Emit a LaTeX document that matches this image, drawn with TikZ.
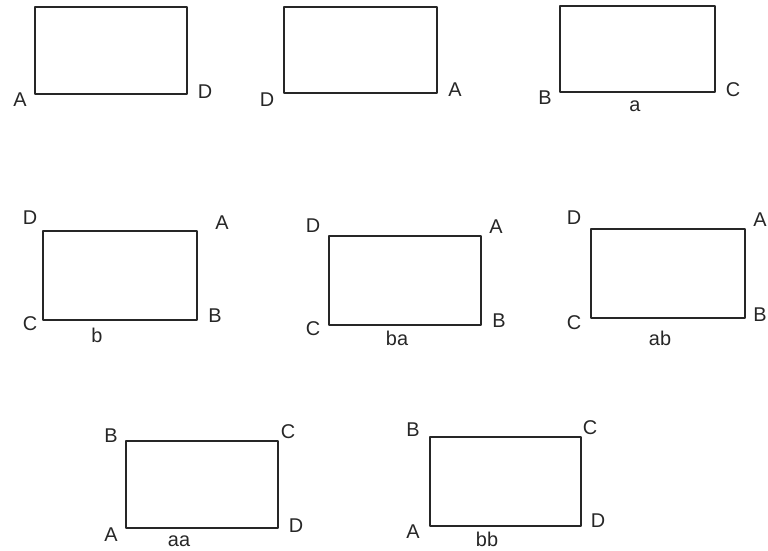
\documentclass[tikz,border=0pt]{standalone}
\usepackage{fontspec}
\setmainfont{Liberation Sans}
\usepackage{xcolor}
\usetikzlibrary{positioning}
\definecolor{ink}{HTML}{262626}

\tikzset{
	box/.style={draw=ink,line width=1.5pt,line join=round},
	lbl/.style={text=ink,inner sep=0pt,font=\fontsize{17}{19}\selectfont}
}

\begin{document}
\begin{tikzpicture}[x=0.03cm,y=-0.03cm]
		\useasboundingbox (0,0) rectangle (768,550);
		
		% first row
		\draw[box] (35,7) rectangle (187,94);
		\node[lbl] (a1) at (20,100) {A};
		\node[lbl] (d1) at (205,92) {D};
		
		\draw[box] (284,7) rectangle (437,93);
		\node[lbl] (d2) at (267,100) {D};
		\node[lbl] (a2) at (455,90) {A};
		
		\draw[box] (560,6) rectangle (715,92);
		\node[lbl] (b3) at (545,98) {B};
		\node[lbl] (c3) at (733,90) {C};
		\node[lbl] (n3) at (635,106) {a};
		
		% second row
		\draw[box] (43,231) rectangle (197,320);
		\node[lbl] (d4) at (30,218) {D};
		\node[lbl] (a4) at (222,223) {A};
		\node[lbl] (c4) at (30,324) {C};
		\node[lbl] (b4) at (215,316) {B};
		\node[lbl] (n4) at (97,335) {b};
		
		\draw[box] (329,236) rectangle (481,325);
		\node[lbl] (d5) at (313,226) {D};
		\node[lbl] (a5) at (496,227) {A};
		\node[lbl] (c5) at (313,329) {C};
		\node[lbl] (b5) at (499,321) {B};
		\node[lbl] (n5) at (397,338) {ba};
		
		\draw[box] (591,229) rectangle (745,318);
		\node[lbl] (d6) at (574,218) {D};
		\node[lbl] (a6) at (760,220) {A};
		\node[lbl] (c6) at (574,323) {C};
		\node[lbl] (b6) at (760,315) {B};
		\node[lbl] (n6) at (660,338) {ab};
		
		% third row
		\draw[box] (126,441) rectangle (278,528);
		\node[lbl] (b7) at (111,436) {B};
		\node[lbl] (c7) at (288,432) {C};
		\node[lbl] (a7) at (111,535) {A};
		\node[lbl] (d7) at (296,526) {D};
		\node[lbl] (n7) at (179,541) {aa};
		
		\draw[box] (430,437) rectangle (581,526);
		\node[lbl] (b8) at (413,430) {B};
		\node[lbl] (c8) at (590,428) {C};
		\node[lbl] (a8) at (413,532) {A};
		\node[lbl] (d8) at (598,521) {D};
		\node[lbl] (n8) at (487,539) {bb};
	\end{tikzpicture}
\end{document}
